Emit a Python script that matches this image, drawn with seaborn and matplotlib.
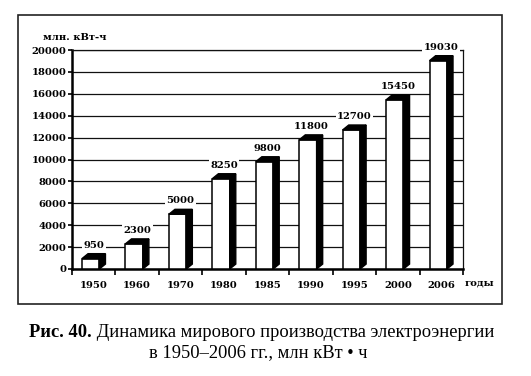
import pandas as pd
import matplotlib
matplotlib.use("Agg")
import matplotlib.pyplot as plt
from matplotlib.patches import Polygon, Rectangle
import numpy as np
import seaborn as sns

years = ["1950", "1960", "1970", "1980", "1985", "1990", "1995", "2000", "2006"]
output = [950, 2300, 5000, 8250, 9800, 11800, 12700, 15450, 19030]
y_ticks = list(range(0, 20001, 2000))

df = pd.DataFrame({"year": years, "output": output})

sns.set_theme(style="ticks", rc={"text.color": "black", "xtick.color": "black",
                                 "ytick.color": "black", "axes.labelcolor": "black"})
plt.rcParams["font.family"] = ["DejaVu Serif", "DejaVu Sans"]

W, H = 531, 376
fig = plt.figure(figsize=(W / 100, H / 100), dpi=100)
ax = fig.add_axes([72 / W, 1 - 269 / H, (463 - 72) / W, (269 - 50) / H])

sns.barplot(data=df, x="year", y="output", color="white", saturation=1,
            edgecolor="black", linewidth=1.1, width=0.4, ax=ax, zorder=3)

# fake 3D: dark side and top faces
dx, dy = 0.14, 450
for p in list(ax.patches):
    x0 = p.get_x() - dx / 2
    p.set_x(x0)
    w, h = p.get_width(), p.get_height()
    x1 = x0 + w
    side = Polygon([(x1, 0), (x1 + dx, dy), (x1 + dx, h + dy), (x1, h)],
                   closed=True, fc="black", ec="black", lw=1, zorder=3)
    top = Polygon([(x0, h), (x0 + dx, h + dy), (x1 + dx, h + dy), (x1, h)],
                  closed=True, fc="black", ec="black", lw=1, zorder=3)
    ax.add_patch(side)
    ax.add_patch(top)

lab_font = dict(family="DejaVu Serif", weight="bold", size=7.2, color="black")
for i, v in enumerate(output):
    ax.annotate(str(v), xy=(i, v + dy), xytext=(0, 3), textcoords="offset points",
                ha="center", va="bottom", zorder=5,
                bbox=dict(fc="white", ec="none", pad=1), **lab_font)

ax.set_ylim(0, 20000)
ax.set_xlim(-0.5, 8.5)
ax.set_yticks(y_ticks)
ax.set_yticklabels([str(t) for t in y_ticks], **lab_font)
ax.set_xticks(range(len(years)))
ax.set_xticklabels(years, **lab_font)
ax.set_xticks(np.arange(-0.5, 9, 1), minor=True)
ax.tick_params(axis="x", which="major", length=0, pad=9)
ax.tick_params(axis="x", which="minor", length=4, width=1.2, direction="out")
ax.tick_params(axis="y", length=3, width=1.2, direction="out", pad=1)
ax.set_xlabel("")
ax.set_ylabel("")

ax.yaxis.grid(True, color="#111111", lw=0.9)
ax.set_axisbelow(True)
for s in ["left", "bottom"]:
    ax.spines[s].set_linewidth(1.8)
    ax.spines[s].set_color("black")
for s in ["top", "right"]:
    ax.spines[s].set_linewidth(0.9)
    ax.spines[s].set_color("#111111")

fig.text(465 / W, 1 - 283 / H, "годы", ha="left", va="center", **lab_font)
fig.text(43 / W, 1 - 37 / H, "млн. кВт-ч", ha="left", va="center", **lab_font)

fig.patches.append(Rectangle((18 / W, 1 - 304 / H), (502 - 18) / W, (304 - 15) / H,
                             transform=fig.transFigure, fill=False, ec="#222222", lw=1.2))

# caption: bold figure number + regular text
cap = dict(family="Liberation Serif", size=13.3, color="black")
renderer = fig.canvas.get_renderer()
t1 = fig.text(0, 1 - 337 / H, "Рис. 40.", weight="bold", va="baseline", **cap)
t2 = fig.text(0, 1 - 337 / H, " Динамика мирового производства электроэнергии",
              va="baseline", **cap)
w1 = t1.get_window_extent(renderer).width
w2 = t2.get_window_extent(renderer).width
xs = 262 - (w1 + w2) / 2
t1.set_x(xs / W)
t2.set_x((xs + w1) / W)
fig.text(258 / W, 1 - 357 / H, "в 1950–2006 гг., млн кВт • ч", ha="center",
         va="baseline", **cap)

fig.savefig("out.png", dpi=100)
